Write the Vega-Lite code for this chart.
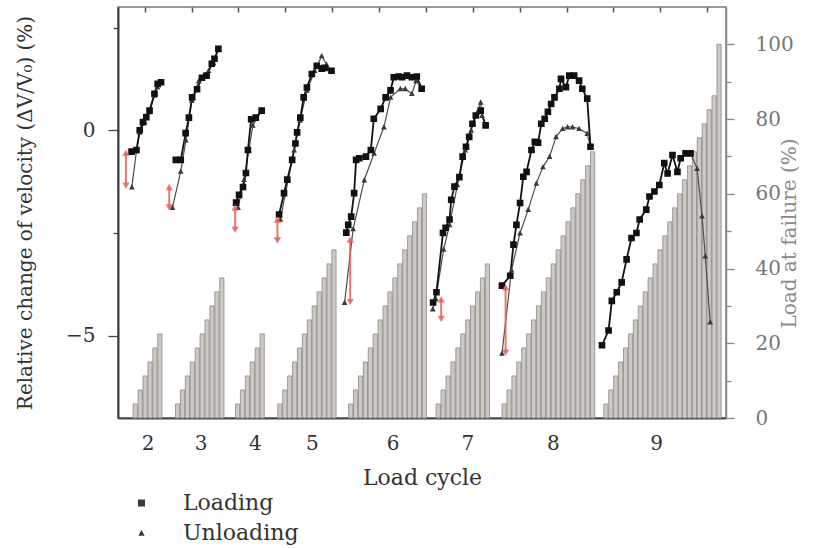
{
  "$schema": "https://vega.github.io/schema/vega-lite/v6.json",
  "width": 608,
  "height": 411,
  "autosize": "none",
  "padding": {"left": 118, "top": 7, "right": 91, "bottom": 130},
  "background": "white",
  "config": {
    "view": {"stroke": "#7a7a7a", "strokeWidth": 1.5},
    "font": "DejaVu Serif",
    "axis": {
      "grid": false,
      "labelFont": "DejaVu Serif",
      "labelFontSize": 20,
      "labelColor": "#333",
      "titleFont": "DejaVu Serif",
      "titleFontWeight": "normal",
      "titleFontSize": 20,
      "titleColor": "#333",
      "tickColor": "#444",
      "tickWidth": 1.3,
      "domainColor": "#555",
      "domainWidth": 1.5
    },
    "legend": {
      "symbolFillColor": "#222",
      "symbolStrokeColor": "#222",
      "symbolStrokeWidth": 1.5,
      "symbolOpacity": 1
    }
  },
  "datasets": {
    "bars": [
      {"c": 2, "x": 2.5, "load": 3.75}, {"c": 2, "x": 3.5, "load": 7.5}, {"c": 2, "x": 4.5, "load": 11.25}, {"c": 2, "x": 5.5, "load": 15}, {"c": 2, "x": 6.5, "load": 18.75}, {"c": 2, "x": 7.5, "load": 22.5},
      {"c": 3, "x": 11.1, "load": 3.75}, {"c": 3, "x": 12.1, "load": 7.5}, {"c": 3, "x": 13.1, "load": 11.25}, {"c": 3, "x": 14.1, "load": 15}, {"c": 3, "x": 15.1, "load": 18.75}, {"c": 3, "x": 16.1, "load": 22.5}, {"c": 3, "x": 17.1, "load": 26.25}, {"c": 3, "x": 18.1, "load": 30}, {"c": 3, "x": 19.1, "load": 33.75}, {"c": 3, "x": 20.1, "load": 37.5},
      {"c": 4, "x": 23.3, "load": 3.75}, {"c": 4, "x": 24.3, "load": 7.5}, {"c": 4, "x": 25.3, "load": 11.25}, {"c": 4, "x": 26.3, "load": 15}, {"c": 4, "x": 27.3, "load": 18.75}, {"c": 4, "x": 28.3, "load": 22.5},
      {"c": 5, "x": 31.9, "load": 3.75}, {"c": 5, "x": 32.9, "load": 7.5}, {"c": 5, "x": 33.9, "load": 11.25}, {"c": 5, "x": 34.9, "load": 15}, {"c": 5, "x": 35.9, "load": 18.75}, {"c": 5, "x": 36.9, "load": 22.5}, {"c": 5, "x": 37.9, "load": 26.25}, {"c": 5, "x": 38.9, "load": 30}, {"c": 5, "x": 39.9, "load": 33.75}, {"c": 5, "x": 40.9, "load": 37.5}, {"c": 5, "x": 41.9, "load": 41.25}, {"c": 5, "x": 42.9, "load": 45},
      {"c": 6, "x": 46.3, "load": 3.75}, {"c": 6, "x": 47.3, "load": 7.5}, {"c": 6, "x": 48.3, "load": 11.25}, {"c": 6, "x": 49.3, "load": 15}, {"c": 6, "x": 50.3, "load": 18.75}, {"c": 6, "x": 51.3, "load": 22.5}, {"c": 6, "x": 52.3, "load": 26.25}, {"c": 6, "x": 53.3, "load": 30}, {"c": 6, "x": 54.3, "load": 33.75}, {"c": 6, "x": 55.3, "load": 37.5}, {"c": 6, "x": 56.3, "load": 41.25}, {"c": 6, "x": 57.3, "load": 45}, {"c": 6, "x": 58.3, "load": 48.75}, {"c": 6, "x": 59.3, "load": 52.5}, {"c": 6, "x": 60.3, "load": 56.25}, {"c": 6, "x": 61.3, "load": 60},
      {"c": 7, "x": 64.1, "load": 3.75}, {"c": 7, "x": 65.1, "load": 7.5}, {"c": 7, "x": 66.1, "load": 11.25}, {"c": 7, "x": 67.1, "load": 15}, {"c": 7, "x": 68.1, "load": 18.75}, {"c": 7, "x": 69.1, "load": 22.5}, {"c": 7, "x": 70.1, "load": 26.25}, {"c": 7, "x": 71.1, "load": 30}, {"c": 7, "x": 72.1, "load": 33.75}, {"c": 7, "x": 73.1, "load": 37.5}, {"c": 7, "x": 74.1, "load": 41.25},
      {"c": 8, "x": 77.5, "load": 3.75}, {"c": 8, "x": 78.5, "load": 7.5}, {"c": 8, "x": 79.5, "load": 11.25}, {"c": 8, "x": 80.5, "load": 15}, {"c": 8, "x": 81.5, "load": 18.75}, {"c": 8, "x": 82.5, "load": 22.5}, {"c": 8, "x": 83.5, "load": 26.25}, {"c": 8, "x": 84.5, "load": 30}, {"c": 8, "x": 85.5, "load": 33.75}, {"c": 8, "x": 86.5, "load": 37.5}, {"c": 8, "x": 87.5, "load": 41.25}, {"c": 8, "x": 88.5, "load": 45}, {"c": 8, "x": 89.5, "load": 48.75}, {"c": 8, "x": 90.5, "load": 52.5}, {"c": 8, "x": 91.5, "load": 56.25}, {"c": 8, "x": 92.5, "load": 60}, {"c": 8, "x": 93.5, "load": 63.75}, {"c": 8, "x": 94.5, "load": 67.5}, {"c": 8, "x": 95.5, "load": 71.25},
      {"c": 9, "x": 98.2, "load": 3.75}, {"c": 9, "x": 99.2, "load": 7.5}, {"c": 9, "x": 100.2, "load": 11.25}, {"c": 9, "x": 101.2, "load": 15}, {"c": 9, "x": 102.2, "load": 18.75}, {"c": 9, "x": 103.2, "load": 22.5}, {"c": 9, "x": 104.2, "load": 26.25}, {"c": 9, "x": 105.2, "load": 30}, {"c": 9, "x": 106.2, "load": 33.75}, {"c": 9, "x": 107.2, "load": 37.5}, {"c": 9, "x": 108.2, "load": 41.25}, {"c": 9, "x": 109.2, "load": 45}, {"c": 9, "x": 110.2, "load": 48.75}, {"c": 9, "x": 111.2, "load": 52.5}, {"c": 9, "x": 112.2, "load": 56.25}, {"c": 9, "x": 113.2, "load": 60}, {"c": 9, "x": 114.2, "load": 63.75}, {"c": 9, "x": 115.2, "load": 67.5}, {"c": 9, "x": 116.2, "load": 71.25}, {"c": 9, "x": 117.2, "load": 75}, {"c": 9, "x": 118.2, "load": 78.75}, {"c": 9, "x": 119.2, "load": 82.5}, {"c": 9, "x": 120.2, "load": 86.25}, {"c": 9, "x": 121.2, "load": 100}
    ],
    "pts": [
      {"c": 2, "ser": "Unloading", "x": 7.74, "v": 1.17}, {"c": 2, "ser": "Unloading", "x": 7.0, "v": 1.05}, {"c": 2, "ser": "Unloading", "x": 6.4, "v": 0.85}, {"c": 2, "ser": "Unloading", "x": 5.4, "v": 0.45}, {"c": 2, "ser": "Unloading", "x": 4.4, "v": 0.2}, {"c": 2, "ser": "Unloading", "x": 3.4, "v": -0.05}, {"c": 2, "ser": "Unloading", "x": 2.74, "v": -0.5}, {"c": 2, "ser": "Unloading", "x": 1.8, "v": -1.38},
      {"c": 3, "ser": "Unloading", "x": 19.4, "v": 1.98}, {"c": 3, "ser": "Unloading", "x": 18.4, "v": 1.64}, {"c": 3, "ser": "Unloading", "x": 17.4, "v": 1.45}, {"c": 3, "ser": "Unloading", "x": 16.4, "v": 1.33}, {"c": 3, "ser": "Unloading", "x": 15.4, "v": 1.2}, {"c": 3, "ser": "Unloading", "x": 14.0, "v": 0.72}, {"c": 3, "ser": "Unloading", "x": 12.8, "v": -0.24}, {"c": 3, "ser": "Unloading", "x": 11.74, "v": -1.0}, {"c": 3, "ser": "Unloading", "x": 10.06, "v": -1.88},
      {"c": 4, "ser": "Unloading", "x": 28.2, "v": 0.48}, {"c": 4, "ser": "Unloading", "x": 26.4, "v": 0.12}, {"c": 4, "ser": "Unloading", "x": 25.6, "v": -0.48}, {"c": 4, "ser": "Unloading", "x": 24.6, "v": -1.2}, {"c": 4, "ser": "Unloading", "x": 23.4, "v": -1.88},
      {"c": 5, "ser": "Unloading", "x": 42.4, "v": 1.45}, {"c": 5, "ser": "Unloading", "x": 41.4, "v": 1.6}, {"c": 5, "ser": "Unloading", "x": 40.4, "v": 1.81}, {"c": 5, "ser": "Unloading", "x": 39.0, "v": 1.45}, {"c": 5, "ser": "Unloading", "x": 37.4, "v": 0.97}, {"c": 5, "ser": "Unloading", "x": 36.0, "v": 0.24}, {"c": 5, "ser": "Unloading", "x": 34.8, "v": -0.48}, {"c": 5, "ser": "Unloading", "x": 33.6, "v": -1.2}, {"c": 5, "ser": "Unloading", "x": 32.0, "v": -2.17},
      {"c": 6, "ser": "Unloading", "x": 60.74, "v": 1.01}, {"c": 6, "ser": "Unloading", "x": 59.6, "v": 1.2}, {"c": 6, "ser": "Unloading", "x": 58.74, "v": 0.89}, {"c": 6, "ser": "Unloading", "x": 57.4, "v": 1.01}, {"c": 6, "ser": "Unloading", "x": 56.4, "v": 1.01}, {"c": 6, "ser": "Unloading", "x": 54.4, "v": 0.8}, {"c": 6, "ser": "Unloading", "x": 53.06, "v": 0.08}, {"c": 6, "ser": "Unloading", "x": 51.06, "v": -0.56}, {"c": 6, "ser": "Unloading", "x": 49.06, "v": -1.21}, {"c": 6, "ser": "Unloading", "x": 46.8, "v": -2.4}, {"c": 6, "ser": "Unloading", "x": 45.06, "v": -4.19},
      {"c": 7, "ser": "Unloading", "x": 73.74, "v": 0.12}, {"c": 7, "ser": "Unloading", "x": 73.0, "v": 0.36}, {"c": 7, "ser": "Unloading", "x": 72.74, "v": 0.68}, {"c": 7, "ser": "Unloading", "x": 72.0, "v": 0.43}, {"c": 7, "ser": "Unloading", "x": 70.8, "v": 0.0}, {"c": 7, "ser": "Unloading", "x": 69.6, "v": -0.48}, {"c": 7, "ser": "Unloading", "x": 68.0, "v": -1.33}, {"c": 7, "ser": "Unloading", "x": 66.4, "v": -2.3}, {"c": 7, "ser": "Unloading", "x": 65.2, "v": -2.9}, {"c": 7, "ser": "Unloading", "x": 63.6, "v": -4.1}, {"c": 7, "ser": "Unloading", "x": 63.0, "v": -4.35},
      {"c": 8, "ser": "Unloading", "x": 95.06, "v": -0.4}, {"c": 8, "ser": "Unloading", "x": 94.4, "v": -0.08}, {"c": 8, "ser": "Unloading", "x": 92.74, "v": 0.04}, {"c": 8, "ser": "Unloading", "x": 91.4, "v": 0.08}, {"c": 8, "ser": "Unloading", "x": 90.4, "v": 0.08}, {"c": 8, "ser": "Unloading", "x": 89.4, "v": 0.04}, {"c": 8, "ser": "Unloading", "x": 88.06, "v": -0.16}, {"c": 8, "ser": "Unloading", "x": 86.74, "v": -0.64}, {"c": 8, "ser": "Unloading", "x": 85.4, "v": -0.89}, {"c": 8, "ser": "Unloading", "x": 84.06, "v": -1.29}, {"c": 8, "ser": "Unloading", "x": 82.4, "v": -1.93}, {"c": 8, "ser": "Unloading", "x": 80.74, "v": -2.5}, {"c": 8, "ser": "Unloading", "x": 79.0, "v": -3.4}, {"c": 8, "ser": "Unloading", "x": 77.06, "v": -5.43},
      {"c": 9, "ser": "Unloading", "x": 115.4, "v": -0.56}, {"c": 9, "ser": "Unloading", "x": 116.74, "v": -0.93}, {"c": 9, "ser": "Unloading", "x": 117.74, "v": -2.09}, {"c": 9, "ser": "Unloading", "x": 118.4, "v": -3.06}, {"c": 9, "ser": "Unloading", "x": 119.4, "v": -4.67},
      {"c": 2, "ser": "Loading", "x": 1.74, "v": -0.52}, {"c": 2, "ser": "Loading", "x": 2.74, "v": -0.48}, {"c": 2, "ser": "Loading", "x": 3.4, "v": 0.0}, {"c": 2, "ser": "Loading", "x": 4.06, "v": 0.2}, {"c": 2, "ser": "Loading", "x": 4.74, "v": 0.32}, {"c": 2, "ser": "Loading", "x": 5.4, "v": 0.48}, {"c": 2, "ser": "Loading", "x": 6.4, "v": 0.89}, {"c": 2, "ser": "Loading", "x": 7.06, "v": 1.13}, {"c": 2, "ser": "Loading", "x": 7.74, "v": 1.17},
      {"c": 3, "ser": "Loading", "x": 10.74, "v": -0.72}, {"c": 3, "ser": "Loading", "x": 11.74, "v": -0.72}, {"c": 3, "ser": "Loading", "x": 12.74, "v": -0.07}, {"c": 3, "ser": "Loading", "x": 13.4, "v": 0.31}, {"c": 3, "ser": "Loading", "x": 14.06, "v": 0.8}, {"c": 3, "ser": "Loading", "x": 15.06, "v": 1.0}, {"c": 3, "ser": "Loading", "x": 16.06, "v": 1.28}, {"c": 3, "ser": "Loading", "x": 17.0, "v": 1.33}, {"c": 3, "ser": "Loading", "x": 18.06, "v": 1.62}, {"c": 3, "ser": "Loading", "x": 18.6, "v": 1.74}, {"c": 3, "ser": "Loading", "x": 19.4, "v": 1.98},
      {"c": 4, "ser": "Loading", "x": 23.0, "v": -1.76}, {"c": 4, "ser": "Loading", "x": 23.6, "v": -1.57}, {"c": 4, "ser": "Loading", "x": 24.4, "v": -1.38}, {"c": 4, "ser": "Loading", "x": 25.0, "v": -1.04}, {"c": 4, "ser": "Loading", "x": 25.4, "v": -0.48}, {"c": 4, "ser": "Loading", "x": 26.06, "v": 0.27}, {"c": 4, "ser": "Loading", "x": 27.0, "v": 0.31}, {"c": 4, "ser": "Loading", "x": 28.2, "v": 0.48},
      {"c": 5, "ser": "Loading", "x": 31.74, "v": -2.05}, {"c": 5, "ser": "Loading", "x": 32.74, "v": -1.53}, {"c": 5, "ser": "Loading", "x": 33.4, "v": -1.2}, {"c": 5, "ser": "Loading", "x": 34.4, "v": -0.72}, {"c": 5, "ser": "Loading", "x": 35.06, "v": -0.32}, {"c": 5, "ser": "Loading", "x": 35.4, "v": -0.05}, {"c": 5, "ser": "Loading", "x": 36.06, "v": 0.31}, {"c": 5, "ser": "Loading", "x": 36.74, "v": 0.8}, {"c": 5, "ser": "Loading", "x": 37.4, "v": 1.04}, {"c": 5, "ser": "Loading", "x": 38.4, "v": 1.37}, {"c": 5, "ser": "Loading", "x": 39.4, "v": 1.57}, {"c": 5, "ser": "Loading", "x": 40.4, "v": 1.5}, {"c": 5, "ser": "Loading", "x": 41.0, "v": 1.52}, {"c": 5, "ser": "Loading", "x": 42.4, "v": 1.45},
      {"c": 6, "ser": "Loading", "x": 45.4, "v": -2.49}, {"c": 6, "ser": "Loading", "x": 45.8, "v": -2.3}, {"c": 6, "ser": "Loading", "x": 46.4, "v": -2.1}, {"c": 6, "ser": "Loading", "x": 47.0, "v": -1.53}, {"c": 6, "ser": "Loading", "x": 47.4, "v": -0.72}, {"c": 6, "ser": "Loading", "x": 48.06, "v": -0.68}, {"c": 6, "ser": "Loading", "x": 49.4, "v": -0.64}, {"c": 6, "ser": "Loading", "x": 50.4, "v": -0.48}, {"c": 6, "ser": "Loading", "x": 51.0, "v": 0.28}, {"c": 6, "ser": "Loading", "x": 52.4, "v": 0.52}, {"c": 6, "ser": "Loading", "x": 53.4, "v": 0.8}, {"c": 6, "ser": "Loading", "x": 54.4, "v": 0.97}, {"c": 6, "ser": "Loading", "x": 55.06, "v": 1.29}, {"c": 6, "ser": "Loading", "x": 56.06, "v": 1.31}, {"c": 6, "ser": "Loading", "x": 56.74, "v": 1.29}, {"c": 6, "ser": "Loading", "x": 57.74, "v": 1.33}, {"c": 6, "ser": "Loading", "x": 58.74, "v": 1.29}, {"c": 6, "ser": "Loading", "x": 59.74, "v": 1.31}, {"c": 6, "ser": "Loading", "x": 60.74, "v": 1.01},
      {"c": 7, "ser": "Loading", "x": 63.06, "v": -4.19}, {"c": 7, "ser": "Loading", "x": 63.74, "v": -3.94}, {"c": 7, "ser": "Loading", "x": 65.06, "v": -2.5}, {"c": 7, "ser": "Loading", "x": 65.6, "v": -2.37}, {"c": 7, "ser": "Loading", "x": 66.4, "v": -2.17}, {"c": 7, "ser": "Loading", "x": 66.74, "v": -1.69}, {"c": 7, "ser": "Loading", "x": 67.4, "v": -1.37}, {"c": 7, "ser": "Loading", "x": 68.4, "v": -1.14}, {"c": 7, "ser": "Loading", "x": 69.06, "v": -0.64}, {"c": 7, "ser": "Loading", "x": 69.74, "v": -0.4}, {"c": 7, "ser": "Loading", "x": 70.4, "v": -0.16}, {"c": 7, "ser": "Loading", "x": 71.06, "v": 0.16}, {"c": 7, "ser": "Loading", "x": 71.74, "v": 0.36}, {"c": 7, "ser": "Loading", "x": 72.74, "v": 0.48}, {"c": 7, "ser": "Loading", "x": 73.74, "v": 0.12},
      {"c": 8, "ser": "Loading", "x": 77.06, "v": -3.78}, {"c": 8, "ser": "Loading", "x": 78.74, "v": -3.54}, {"c": 8, "ser": "Loading", "x": 79.4, "v": -2.78}, {"c": 8, "ser": "Loading", "x": 80.0, "v": -2.3}, {"c": 8, "ser": "Loading", "x": 80.74, "v": -1.77}, {"c": 8, "ser": "Loading", "x": 81.4, "v": -1.13}, {"c": 8, "ser": "Loading", "x": 82.06, "v": -1.01}, {"c": 8, "ser": "Loading", "x": 83.06, "v": -0.48}, {"c": 8, "ser": "Loading", "x": 83.74, "v": -0.28}, {"c": 8, "ser": "Loading", "x": 84.4, "v": -0.3}, {"c": 8, "ser": "Loading", "x": 85.06, "v": 0.16}, {"c": 8, "ser": "Loading", "x": 85.74, "v": 0.28}, {"c": 8, "ser": "Loading", "x": 86.4, "v": 0.45}, {"c": 8, "ser": "Loading", "x": 87.06, "v": 0.64}, {"c": 8, "ser": "Loading", "x": 87.74, "v": 0.8}, {"c": 8, "ser": "Loading", "x": 88.74, "v": 1.01}, {"c": 8, "ser": "Loading", "x": 89.06, "v": 1.25}, {"c": 8, "ser": "Loading", "x": 90.06, "v": 1.05}, {"c": 8, "ser": "Loading", "x": 90.74, "v": 1.33}, {"c": 8, "ser": "Loading", "x": 91.74, "v": 1.33}, {"c": 8, "ser": "Loading", "x": 92.74, "v": 1.21}, {"c": 8, "ser": "Loading", "x": 93.4, "v": 1.01}, {"c": 8, "ser": "Loading", "x": 94.4, "v": 0.77}, {"c": 8, "ser": "Loading", "x": 95.06, "v": -0.4},
      {"c": 9, "ser": "Loading", "x": 97.4, "v": -5.23}, {"c": 9, "ser": "Loading", "x": 98.74, "v": -4.87}, {"c": 9, "ser": "Loading", "x": 99.4, "v": -4.15}, {"c": 9, "ser": "Loading", "x": 100.4, "v": -3.94}, {"c": 9, "ser": "Loading", "x": 101.4, "v": -3.7}, {"c": 9, "ser": "Loading", "x": 102.4, "v": -3.14}, {"c": 9, "ser": "Loading", "x": 103.4, "v": -2.62}, {"c": 9, "ser": "Loading", "x": 104.4, "v": -2.5}, {"c": 9, "ser": "Loading", "x": 105.06, "v": -2.17}, {"c": 9, "ser": "Loading", "x": 106.4, "v": -1.93}, {"c": 9, "ser": "Loading", "x": 107.06, "v": -1.61}, {"c": 9, "ser": "Loading", "x": 108.06, "v": -1.49}, {"c": 9, "ser": "Loading", "x": 109.06, "v": -1.33}, {"c": 9, "ser": "Loading", "x": 110.06, "v": -0.8}, {"c": 9, "ser": "Loading", "x": 110.74, "v": -1.05}, {"c": 9, "ser": "Loading", "x": 111.74, "v": -0.6}, {"c": 9, "ser": "Loading", "x": 112.74, "v": -1.01}, {"c": 9, "ser": "Loading", "x": 113.4, "v": -0.68}, {"c": 9, "ser": "Loading", "x": 114.4, "v": -0.56}, {"c": 9, "ser": "Loading", "x": 115.4, "v": -0.56}
    ],
    "arrows": [
      {"c": 2, "x": 0.6, "top": -0.55, "bot": -1.35},
      {"c": 3, "x": 9.4, "top": -1.38, "bot": -1.88},
      {"c": 4, "x": 22.8, "top": -1.88, "bot": -2.42},
      {"c": 5, "x": 31.4, "top": -2.17, "bot": -2.68},
      {"c": 6, "x": 46.2, "top": -2.66, "bot": -4.18},
      {"c": 7, "x": 64.7, "top": -4.11, "bot": -4.59},
      {"c": 8, "x": 77.8, "top": -3.82, "bot": -5.41}
    ]
  },
  "layer": [
    {
      "data": {"name": "bars"},
      "mark": {"type": "bar", "size": 4.2, "fill": "#cdc9c5", "stroke": "#8d8883", "strokeWidth": 0.8},
      "encoding": {
        "x": {
          "field": "x", "type": "quantitative",
          "scale": {"domain": [0, 121.6], "nice": false, "zero": false},
          "axis": {
            "orient": "bottom",
            "title": "Load cycle",
            "titleFontSize": 22,
            "titlePadding": 14,
            "values": [5.0, 15.8, 26.8, 38.4, 54.8, 70.0, 87.4, 108.4],
            "labelExpr": "datum.value < 10 ? '2' : datum.value < 20 ? '3' : datum.value < 30 ? '4' : datum.value < 45 ? '5' : datum.value < 60 ? '6' : datum.value < 80 ? '7' : datum.value < 100 ? '8' : '9'",
            "ticks": false,
            "tickSize": 0,
            "labelPadding": 15,
            "domainColor": "#4a4a4a",
            "domainWidth": 2
          }
        },
        "y": {
          "field": "load", "type": "quantitative",
          "scale": {"domain": [0, 110], "nice": false},
          "axis": {
            "orient": "right",
            "title": "Load at failure (%)",
            "titleColor": "#8a8a8a",
            "titleAngle": 270,
            "titleY": 226,
            "titlePadding": 6,
            "values": [0, 10, 20, 30, 40, 50, 60, 70, 80, 90, 100],
            "labelExpr": "datum.value % 20 === 0 ? datum.label : ''",
            "labelColor": "#777",
            "tickColor": "#888",
            "tickSize": {"condition": {"test": "datum.value % 20 === 0", "value": 8}, "value": 5},
            "labelPadding": 21,
            "domainColor": "#8a8a8a"
          }
        }
      }
    },
    {
      "data": {"name": "pts"},
      "transform": [{"filter": "datum.ser === 'Unloading'"}],
      "mark": {"type": "line", "strokeJoin": "round", "color": "#4d4d4d", "strokeWidth": 1.2},
      "encoding": {
        "x": {
          "field": "x", "type": "quantitative",
          "scale": {"domain": [0, 121.6], "nice": false, "zero": false},
          "axis": {
            "orient": "top",
            "title": null,
            "labels": false,
            "domain": false,
            "offset": -5,
            "values": [4.4, 13.93, 23.47, 33.0, 42.53, 52.07, 61.6, 71.13, 80.67, 90.2, 99.73, 109.27, 118.8],
            "tickSize": 5,
            "tickColor": "#555",
            "tickWidth": 1.5
          }
        },
        "y": {
          "field": "v", "type": "quantitative",
          "scale": {"domain": [-7, 3], "nice": false, "zero": false},
          "axis": {
            "orient": "left",
            "title": "Relative change of velocity (ΔV/V₀) (%)",
            "titlePadding": 30,
            "values": [-5, -2.5, 0, 2.5],
            "labelExpr": "datum.value % 5 === 0 ? datum.label : ''",
            "tickSize": {"condition": {"test": "datum.value % 5 === 0", "value": 10}, "value": 5},
            "labelPadding": 13,
            "domainColor": "#3a3a3a",
            "domainWidth": 2
          }
        },
        "detail": {"field": "c"},
        "order": {"value": null}
      }
    },
    {
      "data": {"name": "pts"},
      "transform": [{"filter": "datum.ser === 'Loading'"}],
      "mark": {"type": "line", "strokeJoin": "round", "color": "#111111", "strokeWidth": 1.8},
      "encoding": {
        "x": {"field": "x", "type": "quantitative", "scale": {"domain": [0, 121.6], "nice": false, "zero": false}, "axis": null},
        "y": {"field": "v", "type": "quantitative", "scale": {"domain": [-7, 3], "nice": false, "zero": false}, "axis": null},
        "detail": {"field": "c"},
        "order": {"value": null}
      }
    },
    {
      "data": {"name": "pts"},
      "transform": [{"filter": "datum.ser === 'Unloading'"}],
      "mark": {"type": "point", "filled": false, "fill": "#3a3a3a", "color": "#2a2a2a", "strokeWidth": 0, "opacity": 1, "fillOpacity": 1, "size": 40},
      "encoding": {
        "x": {"field": "x", "type": "quantitative", "scale": {"domain": [0, 121.6], "nice": false, "zero": false}, "axis": null},
        "y": {"field": "v", "type": "quantitative", "scale": {"domain": [-7, 3], "nice": false, "zero": false}, "axis": null},
        "shape": {
          "field": "ser", "type": "nominal",
          "scale": {"domain": ["Loading", "Unloading"], "range": ["M-6.9,0H6.9M-1,-1H1V1H-1Z", "M-6.9,0H6.9M-0.9,0.75L0,-0.95L0.9,0.75Z"]},
          "legend": {
            "title": null,
            "orient": "none",
            "legendX": 12.5,
            "legendY": 485,
            "padding": 0,
            "rowPadding": 8,
            "symbolSize": 49,
            "symbolStrokeWidth": 1.5,
            "labelOffset": 30.5,
            "labelFont": "DejaVu Serif",
            "labelFontSize": 22,
            "labelColor": "#333"
          }
        }
      }
    },
    {
      "data": {"name": "pts"},
      "transform": [{"filter": "datum.ser === 'Loading'"}],
      "mark": {"type": "point", "filled": false, "fill": "#111111", "color": "#111111", "strokeWidth": 0, "opacity": 1, "fillOpacity": 1, "size": 44},
      "encoding": {
        "x": {"field": "x", "type": "quantitative", "scale": {"domain": [0, 121.6], "nice": false, "zero": false}, "axis": null},
        "y": {"field": "v", "type": "quantitative", "scale": {"domain": [-7, 3], "nice": false, "zero": false}, "axis": null},
        "shape": {
          "field": "ser", "type": "nominal",
          "scale": {"domain": ["Loading", "Unloading"], "range": ["M-6.9,0H6.9M-1,-1H1V1H-1Z", "M-6.9,0H6.9M-0.9,0.75L0,-0.95L0.9,0.75Z"]}
        }
      }
    },
    {
      "data": {"name": "arrows"},
      "mark": {"type": "rule", "color": "#e5605a", "strokeWidth": 2, "opacity": 0.85},
      "encoding": {
        "x": {"field": "x", "type": "quantitative", "scale": {"domain": [0, 121.6], "nice": false, "zero": false}, "axis": null},
        "y": {"field": "top", "type": "quantitative", "scale": {"domain": [-7, 3], "nice": false, "zero": false}, "axis": null},
        "y2": {"field": "bot"}
      }
    },
    {
      "data": {"name": "arrows"},
      "mark": {"type": "point", "shape": "triangle-up", "filled": true, "color": "#e5605a", "size": 55, "opacity": 0.8},
      "encoding": {
        "x": {"field": "x", "type": "quantitative", "scale": {"domain": [0, 121.6], "nice": false, "zero": false}, "axis": null},
        "y": {"field": "top", "type": "quantitative", "scale": {"domain": [-7, 3], "nice": false, "zero": false}, "axis": null}
      }
    },
    {
      "data": {"name": "arrows"},
      "mark": {"type": "point", "shape": "triangle-down", "filled": true, "color": "#e5605a", "size": 55, "opacity": 0.8},
      "encoding": {
        "x": {"field": "x", "type": "quantitative", "scale": {"domain": [0, 121.6], "nice": false, "zero": false}, "axis": null},
        "y": {"field": "bot", "type": "quantitative", "scale": {"domain": [-7, 3], "nice": false, "zero": false}, "axis": null}
      }
    }
  ],
  "resolve": {"scale": {"y": "independent"}, "axis": {"x": "independent", "y": "independent"}}
}
